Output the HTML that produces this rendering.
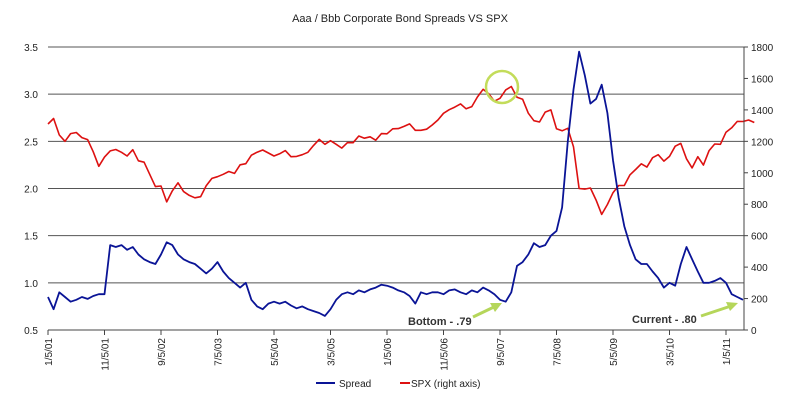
<!DOCTYPE html>
<html><head><meta charset="utf-8"><style>
body{margin:0;background:#fff;}
svg{display:block;font-family:"Liberation Sans",sans-serif;}
</style></head><body>
<svg id="c" width="800" height="402" viewBox="0 0 800 402">
<text x="400" y="22" text-anchor="middle" font-size="11" fill="#222">Aaa / Bbb Corporate Bond Spreads VS SPX</text>
<g id="grid"></g><g id="lines"></g><g id="axes"></g>
<circle cx="502" cy="87" r="16" fill="none" stroke="#c3dc5a" stroke-width="2.5"/>
<g>
<text x="408" y="325" font-size="11" font-weight="bold" fill="#333">Bottom - .79</text>
<line x1="473" y1="317" x2="496" y2="306" stroke="#b5d65a" stroke-width="3"/>
<polygon points="502,303 490,303 495,312" fill="#b5d65a"/>
</g>
<g>
<text x="632" y="323" font-size="11" font-weight="bold" fill="#333">Current - .80</text>
<line x1="701" y1="316" x2="731" y2="306" stroke="#b5d65a" stroke-width="3"/>
<polygon points="738,303 726,302 730,311" fill="#b5d65a"/>
</g>
<g>
<line x1="316" y1="383" x2="335" y2="383" stroke="#0a1496" stroke-width="2"/>
<text x="339" y="387" font-size="10" fill="#222">Spread</text>
<line x1="400" y1="383" x2="410" y2="383" stroke="#dd1111" stroke-width="2"/>
<text x="411" y="387" font-size="10" fill="#222">SPX (right axis)</text>
</g>
</svg>
<script>
const xLabels=["1/5/01","11/5/01","9/5/02","7/5/03","5/5/04","3/5/05","1/5/06","11/5/06","9/5/07","7/5/08","5/5/09","3/5/10","1/5/11"];
const leftTicks=[0.5,1.0,1.5,2.0,2.5,3.0,3.5];
const rightTicks=[0,200,400,600,800,1000,1200,1400,1600,1800];
const spread=[.85,.72,.9,.85,.8,.82,.85,.83,.86,.88,.88,1.4,1.38,1.4,1.35,1.38,1.3,1.25,1.22,1.2,1.3,1.43,1.4,1.3,1.25,1.22,1.2,1.15,1.1,1.15,1.22,1.12,1.05,1.0,.95,1.0,.82,.75,.72,.78,.8,.78,.8,.76,.73,.75,.72,.7,.68,.65,.72,.82,.88,.9,.88,.92,.9,.93,.95,.98,.97,.95,.92,.9,.86,.78,.9,.88,.9,.9,.88,.92,.93,.9,.88,.92,.9,.95,.92,.88,.82,.8,.9,1.18,1.22,1.3,1.42,1.38,1.4,1.5,1.55,1.8,2.5,3.05,3.45,3.2,2.9,2.95,3.1,2.8,2.3,1.9,1.6,1.4,1.25,1.2,1.2,1.12,1.05,.95,1.0,.97,1.2,1.38,1.25,1.12,1.0,1.0,1.02,1.05,1.0,.88,.85,.82];
const spx=[1310,1345,1240,1200,1249,1256,1224,1211,1134,1041,1100,1139,1148,1130,1107,1147,1076,1067,990,912,916,815,885,936,880,856,841,848,917,964,975,990,1008,996,1051,1058,1112,1131,1145,1126,1107,1121,1141,1102,1104,1115,1130,1174,1212,1181,1204,1181,1157,1192,1191,1234,1220,1229,1207,1249,1248,1280,1281,1295,1311,1270,1270,1277,1304,1336,1378,1401,1418,1438,1407,1421,1482,1531,1503,1455,1474,1527,1549,1481,1468,1379,1331,1323,1386,1400,1280,1267,1283,1165,900,896,903,826,735,798,873,919,919,987,1021,1057,1036,1096,1115,1074,1104,1169,1187,1089,1031,1102,1049,1141,1183,1181,1258,1286,1327,1326,1336,1320];
const NS="http://www.w3.org/2000/svg";
const X0=48,X1=744,Y0=330,Y1=47,PXM=5.65;
const xm=m=>X0+m*PXM;
const yL=v=>Y0-(v-0.5)/3*(Y0-Y1);
const yR=v=>Y0-v/1800*(Y0-Y1);
function mk(tag,attrs,parent){const e=document.createElementNS(NS,tag);for(const k in attrs)e.setAttribute(k,attrs[k]);parent.appendChild(e);return e;}
const grid=document.getElementById('grid'),axes=document.getElementById('axes'),lines=document.getElementById('lines');
leftTicks.forEach(v=>{
 const l=mk('line',{x1:X0,x2:X1,y1:yL(v),y2:yL(v),stroke:v===0.5?'#888':'#555','stroke-width':1},grid);
 
 
 const t=mk('text',{x:38,y:yL(v)+4,'text-anchor':'end','font-size':10,fill:'#222'},axes);
 t.textContent=v.toFixed(1);
 
 
});
rightTicks.forEach(v=>{
 mk('line',{x1:X1,x2:X1+4,y1:yR(v),y2:yR(v),stroke:'#444'},axes);
 const t=mk('text',{x:751,y:yR(v)+4,'font-size':10,fill:'#222'},axes);
 t.textContent=v;
 
 
});
mk('line',{x1:X1,x2:X1,y1:Y1,y2:Y0,stroke:'#444'},axes);
mk('line',{x1:X0,x2:X1,y1:Y0,y2:Y0,stroke:'#444'},axes);
xLabels.forEach((s,i)=>{
 const x=xm(i*10);
 mk('line',{x1:x,x2:x,y1:Y0,y2:Y0+5,stroke:'#444'},axes);
 const t=mk('text',{x:0,y:0,'font-size':10,fill:'#222','text-anchor':'end',transform:`translate(${x+4},${Y0+8}) rotate(-90)`},axes);
 t.textContent=s;
 
 
});
const p1=mk('path',{d:spx.map((v,i)=>(i?'L':'M')+xm(i).toFixed(1)+','+yR(v).toFixed(1)).join(''),fill:'none',stroke:'#dd1111','stroke-width':1.6,'stroke-linejoin':'round'},lines);


const p2=mk('path',{d:spread.map((v,i)=>(i?'L':'M')+xm(i).toFixed(1)+','+yL(v).toFixed(1)).join(''),fill:'none',stroke:'#0a1496','stroke-width':1.8,'stroke-linejoin':'round'},lines);


</script>
</body></html>
